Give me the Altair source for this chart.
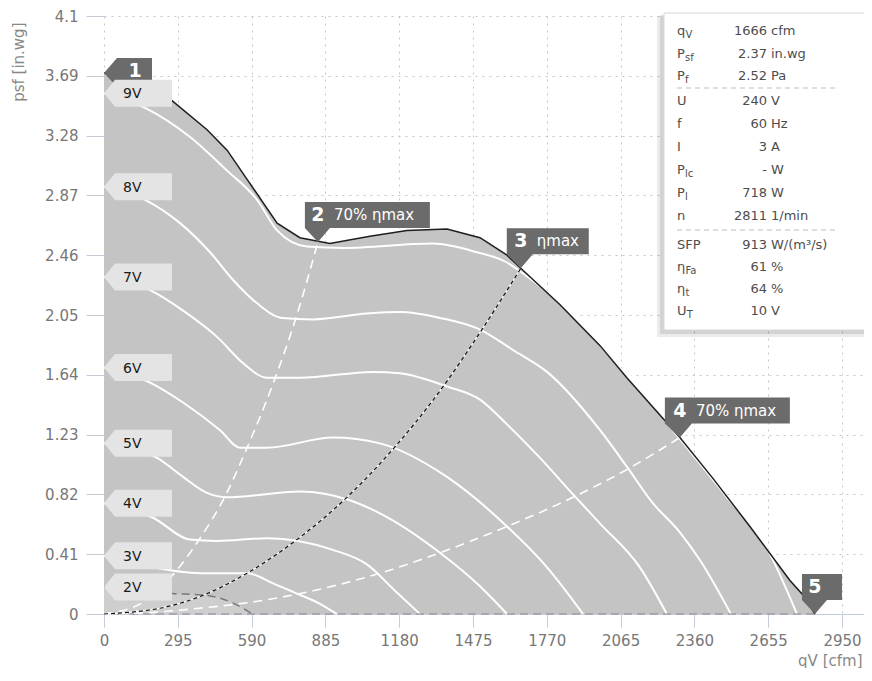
import altair as alt
import pandas as pd

# ---------------- data ----------------
x_ticks = [0, 295, 590, 885, 1180, 1475, 1770, 2065, 2360, 2655, 2950]
y_ticks = [0, 0.41, 0.82, 1.23, 1.64, 2.05, 2.46, 2.87, 3.28, 3.69, 4.1]

# envelope curve (10 V)
q_10v = [0, 144, 272, 412, 492, 572, 692, 783, 903, 1063, 1211, 1371, 1503, 1611, 1666,
         1823, 1983, 2090, 2302, 2434, 2582, 2742, 2794, 2842]
p_10v = [3.71, 3.63, 3.52, 3.32, 3.18, 2.98, 2.68, 2.58, 2.54, 2.59, 2.63, 2.64, 2.58, 2.46, 2.37,
         2.12, 1.84, 1.62, 1.21, 0.93, 0.60, 0.23, 0.13, 0.0]

q_9v = [0, 164, 344, 492, 612, 692, 811, 955, 1315, 1491, 1611, 1663, 1863, 2035, 2302, 2490, 2650, 2770]
p_9v = [3.57, 3.47, 3.27, 3.04, 2.84, 2.63, 2.52, 2.51, 2.54, 2.48, 2.41, 2.35, 2.07, 1.77, 1.20, 0.80, 0.45, 0.0]

q_8v = [0, 164, 304, 424, 516, 612, 712, 835, 1051, 1183, 1343, 1503, 1635, 1771, 1983, 2090, 2194, 2302, 2382, 2506]
p_8v = [2.93, 2.84, 2.68, 2.48, 2.29, 2.13, 2.03, 2.02, 2.06, 2.07, 2.03, 1.95, 1.81, 1.66, 1.26, 1.01, 0.76, 0.56, 0.37, 0.0]

q_7v = [0, 184, 316, 452, 556, 652, 783, 1075, 1183, 1371, 1503, 1611, 1743, 1875, 1983, 2142, 2250]
p_7v = [2.31, 2.22, 2.08, 1.90, 1.72, 1.62, 1.62, 1.66, 1.65, 1.56, 1.47, 1.30, 1.07, 0.82, 0.62, 0.32, 0.0]

q_6v = [0, 192, 316, 464, 544, 652, 915, 1103, 1371, 1611, 1771, 1915]
p_6v = [1.69, 1.58, 1.45, 1.26, 1.14, 1.14, 1.21, 1.17, 0.94, 0.60, 0.32, 0.0]

q_5v = [0, 212, 316, 412, 492, 783, 983, 1103, 1343, 1503, 1611]
p_5v = [1.17, 1.07, 0.94, 0.83, 0.80, 0.84, 0.78, 0.69, 0.42, 0.19, 0.0]

q_4v = [0, 196, 344, 452, 652, 915, 1051, 1163, 1263]
p_4v = [0.76, 0.66, 0.51, 0.50, 0.52, 0.44, 0.34, 0.16, 0.0]

q_3v = [0, 192, 384, 572, 676, 771, 863, 931]
p_3v = [0.40, 0.32, 0.28, 0.28, 0.21, 0.14, 0.07, 0.0]

q_2v = [0, 272, 396, 516, 592]
p_2v = [0.185, 0.14, 0.13, 0.075, 0.0]

# system curves
q_70a = [0, 156, 276, 384, 476, 572, 676, 771, 855]
p_70a = [0, 0.08, 0.27, 0.52, 0.78, 1.14, 1.58, 2.05, 2.55]
q_max = [0, 252, 384, 572, 771, 971, 1155, 1343, 1503, 1666]
p_max = [0, 0.05, 0.12, 0.28, 0.51, 0.80, 1.13, 1.53, 1.93, 2.37]
q_70b = [0, 184, 384, 584, 783, 1103, 1343, 1611, 1875, 2090, 2302]
p_70b = [0, 0.01, 0.04, 0.08, 0.14, 0.28, 0.42, 0.60, 0.80, 0.99, 1.21]

marker_nums = ["1", "2", "3", "4", "5"]
marker_labels = ["", "70% ηmax", "ηmax", "70% ηmax", ""]

leg_main = ["q", "P", "P", "U", "f", "I", "P", "P", "n", "SFP", "η", "η", "U"]
leg_sub = ["V", "sf", "f", "", "", "", "lc", "l", "", "", "Fa", "t", "T"]
leg_val = ["1666", "2.37", "2.52", "240", "60", "3", "-", "718", "2811", "913", "61", "64", "10"]
leg_unit = ["cfm", "in.wg", "Pa", "V", "Hz", "A", "W", "W", "1/min", "W/(m³/s)", "%", "%", "V"]

# ---------------- tables ----------------
FONT = "DejaVu Sans"
W, H = 760, 598
XMAX = 3038


def frame(qs, ps, name=""):
    return pd.DataFrame({"curve": name, "i": list(range(len(qs))), "q": qs, "p": ps})


env_df = frame(q_10v, p_10v, "10V")
white_curves = {"9V": (q_9v, p_9v), "8V": (q_8v, p_8v), "7V": (q_7v, p_7v), "6V": (q_6v, p_6v),
                "5V": (q_5v, p_5v), "4V": (q_4v, p_4v), "3V": (q_3v, p_3v)}
white_df = pd.concat([frame(a, b, k) for k, (a, b) in white_curves.items()], ignore_index=True)
v2_df = frame(q_2v, p_2v, "2V")
sys70_df = pd.concat([frame(q_70a, p_70a, "a"), frame(q_70b, p_70b, "b")], ignore_index=True)
max_df = frame(q_max, p_max, "max")

tag_names = list(white_curves.keys()) + ["2V"]
tag_q = [white_curves[k][0][0] for k in white_curves] + [q_2v[0]]
tag_p = [white_curves[k][1][0] for k in white_curves] + [p_2v[0]]
tag_df = pd.DataFrame({"name": tag_names, "q": tag_q, "p": tag_p})


def bubble(left, right):
    return f"M0,0L{left},-0.14L{left},-0.40L{right},-0.40L{right},-0.14L0.12,-0.14Z"


TAG_PATH = "M0,0L0.11,-0.135L0.68,-0.135L0.68,0.135L0.11,0.135Z"
marker_df = pd.DataFrame({
    "num": marker_nums,
    "label": marker_labels,
    "q": [q_10v[0], q_70a[-1], q_max[-1], q_70b[-1], q_10v[-1]],
    "p": [p_10v[0], p_70a[-1], p_max[-1], p_70b[-1], p_10v[-1]],
    "shape": ["M0,0L0.13,-0.15L0.48,-0.15L0.48,0.14L0.13,0.14Z",
              bubble(-0.13, 1.12), bubble(-0.14, 0.68), bubble(-0.15, 1.10), bubble(-0.13, 0.27)],
})

# ---------------- encodings ----------------
xscale = alt.Scale(domain=[0, XMAX], nice=False, zero=False)
yscale = alt.Scale(domain=[0, 4.1], nice=False, zero=False)
AX = "#c3ccd8"

x_axis = alt.Axis(values=x_ticks, format="d", title="qV [cfm]", grid=True, gridColor="#c6c6c6",
                  gridDash=[2, 5], gridWidth=1, tickSize=13, tickColor=AX, domainColor=AX,
                  labelColor="#777777", labelFontSize=15, labelFont=FONT, labelPadding=6,
                  labelFlush=False, labelOverlap=False, labelBound=False,
                  titleX=758, titleY=46, titleAlign="right", titleBaseline="middle",
                  titleColor="#888888", titleFontSize=15, titleFont=FONT, titleFontWeight="normal")
y_axis = alt.Axis(values=y_ticks, format=".2~f", title="psf [in.wg]", grid=True, gridColor="#c6c6c6",
                  gridDash=[2, 5], gridWidth=1, tickSize=18, tickColor=AX, domain=False,
                  labelColor="#777777", labelFontSize=15, labelFont=FONT, labelPadding=8,
                  labelFlush=False, labelOverlap=False, labelBound=False,
                  titleX=-86, titleY=6, titleAngle=270, titleAlign="right", titleBaseline="middle",
                  titleColor="#888888", titleFontSize=15, titleFont=FONT, titleFontWeight="normal")


def X():
    return alt.X("q:Q", scale=xscale, axis=x_axis)


def Y():
    return alt.Y("p:Q", scale=yscale, axis=y_axis, stack=None)


layers = []
layers.append(alt.Chart(env_df).mark_area(color="#c4c4c4", opacity=1)
              .encode(x=X(), y=Y()))
layers.append(alt.Chart(v2_df).mark_area(color="#cecece", opacity=1, interpolate="monotone")
              .encode(x=X(), y=Y()))
layers.append(alt.Chart(white_df).mark_line(color="white", strokeWidth=2, interpolate="monotone")
              .encode(x=X(), y=Y(), detail="curve:N", order="i:Q"))
layers.append(alt.Chart(v2_df).mark_line(color="#7a7a7a", strokeWidth=1.5, strokeDash=[8, 5],
                                         interpolate="monotone")
              .encode(x=X(), y=Y(), order="i:Q"))
base_df = pd.DataFrame({"q": [q_10v[0]], "q2": [q_10v[-1]], "p": [p_10v[-1]]})
layers.append(alt.Chart(base_df).mark_rule(color="#8a8a8a", strokeWidth=1.2, strokeDash=[8, 5])
              .encode(x=X(), x2="q2:Q", y=Y()))
layers.append(alt.Chart(sys70_df).mark_line(color="white", strokeWidth=1.6, strokeDash=[9, 6],
                                            interpolate="monotone")
              .encode(x=X(), y=Y(), detail="curve:N", order="i:Q"))
layers.append(alt.Chart(max_df).mark_line(color="white", strokeWidth=1.2, interpolate="monotone")
              .encode(x=X(), y=Y(), order="i:Q"))
layers.append(alt.Chart(max_df).mark_line(color="#111111", strokeWidth=1.2, strokeDash=[4, 3],
                                          interpolate="monotone")
              .encode(x=X(), y=Y(), order="i:Q"))
layers.append(alt.Chart(env_df).mark_line(color="#1e1e1e", strokeWidth=1.5)
              .encode(x=X(), y=Y(), order="i:Q"))

# marker 1 (behind voltage tags)
layers.append(alt.Chart(marker_df).transform_filter(alt.datum.num == "1")
              .mark_point(filled=True, size=40000, opacity=1, strokeWidth=0, color="#6b6b6b")
              .encode(x=X(), y=Y(), shape=alt.Shape("shape:N", scale=None)))
layers.append(alt.Chart(marker_df).transform_filter(alt.datum.num == "1")
              .mark_text(font=FONT, fontSize=19, fontWeight="bold", color="white", align="center",
                         baseline="middle", dx=31, dy=-2)
              .encode(x=X(), y=Y(), text="num:N"))

# voltage tags
layers.append(alt.Chart(tag_df).mark_point(filled=True, size=40000, opacity=1, strokeWidth=0,
                                           color="#e4e4e4", shape=TAG_PATH)
              .encode(x=X(), y=Y()))
layers.append(alt.Chart(tag_df).mark_text(font=FONT, fontSize=14, color="#1a1a1a", align="left",
                                          baseline="middle", dx=19, dy=1)
              .encode(x=X(), y=Y(), text="name:N"))

# markers 2-5
layers.append(alt.Chart(marker_df).transform_filter(alt.datum.num != "1")
              .mark_point(filled=True, size=40000, opacity=1, strokeWidth=0, color="#6b6b6b")
              .encode(x=X(), y=Y(), shape=alt.Shape("shape:N", scale=None)))
layers.append(alt.Chart(marker_df).transform_filter(alt.datum.num != "1")
              .mark_text(font=FONT, fontSize=19, fontWeight="bold", color="white", align="center",
                         baseline="middle", dy=-27)
              .encode(x=X(), y=Y(), text="num:N"))
layers.append(alt.Chart(marker_df).transform_filter(alt.datum.num != "1")
              .mark_text(font=FONT, fontSize=15, color="white", align="left",
                         baseline="middle", dx=16, dy=-27)
              .encode(x=X(), y=Y(), text="label:N"))

# info box
one = pd.DataFrame({"a": [0]})
layers.append(alt.Chart(one).mark_rect(color="#000000", opacity=0.08)
              .encode(x=alt.value(553), x2=alt.value(775), y=alt.value(0), y2=alt.value(321)))
layers.append(alt.Chart(one).mark_rect(color="#000000", opacity=0.10)
              .encode(x=alt.value(556), x2=alt.value(775), y=alt.value(-1), y2=alt.value(318)))
layers.append(alt.Chart(one).mark_rect(color="white", stroke="#d6d6d6", strokeWidth=1)
              .encode(x=alt.value(560), x2=alt.value(775), y=alt.value(-3), y2=alt.value(314)))
layers.append(alt.Chart(one).mark_rule(color="#bdbdbd", strokeWidth=1, strokeDash=[5, 4])
              .encode(x=alt.value(573), x2=alt.value(734), y=alt.value(72)))
layers.append(alt.Chart(one).mark_rule(color="#bdbdbd", strokeWidth=1, strokeDash=[5, 4])
              .encode(x=alt.value(573), x2=alt.value(734), y=alt.value(214)))

TXT = "#4d4d4d"
group_start = [15, 85, 229]
group_step = [22.5, 23, 22]
char_w = {"q": 8.5, "P": 8.0, "η": 8.5, "U": 9.7}
for i in range(len(leg_main)):
    g = 0 if i < 3 else (1 if i < 9 else 2)
    yy = group_start[g] + group_step[g] * (i - [0, 3, 9][g])
    layers.append(alt.Chart(one).mark_text(font=FONT, fontSize=13, color=TXT, align="left", baseline="middle")
                  .encode(x=alt.value(573), y=alt.value(yy), text=alt.value(leg_main[i])))
    if leg_sub[i]:
        layers.append(alt.Chart(one).mark_text(font=FONT, fontSize=10, color=TXT, align="left",
                                               baseline="middle")
                      .encode(x=alt.value(573 + char_w.get(leg_main[i], 8)), y=alt.value(yy + 4),
                              text=alt.value(leg_sub[i])))
    layers.append(alt.Chart(one).mark_text(font=FONT, fontSize=13, color=TXT, align="right", baseline="middle")
                  .encode(x=alt.value(663), y=alt.value(yy), text=alt.value(leg_val[i])))
    layers.append(alt.Chart(one).mark_text(font=FONT, fontSize=13, color=TXT, align="left", baseline="middle")
                  .encode(x=alt.value(667), y=alt.value(yy), text=alt.value(leg_unit[i])))

chart = alt.layer(*layers).properties(
    width=W, height=H,
    autosize=alt.AutoSizeParams(type="none"),
    padding={"left": 96, "top": 8, "right": 0, "bottom": 54},
).configure(font=FONT).configure_view(stroke="transparent")

chart.save("out.html", embed_options={"renderer": "svg", "actions": False})
